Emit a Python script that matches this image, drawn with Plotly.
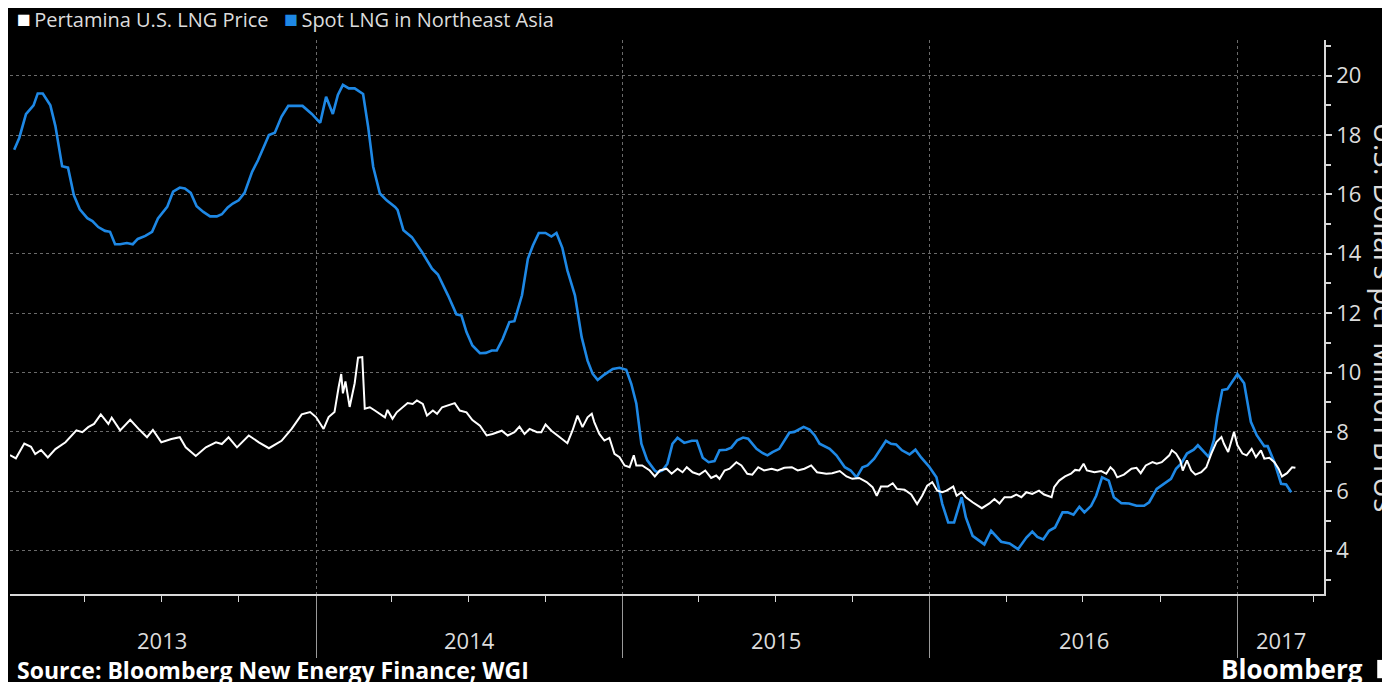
import plotly.graph_objects as go

# Spot LNG in Northeast Asia (weekly assessments), $/MMBtu
spot_dates = [
    "2013-01-07", "2013-01-13", "2013-01-21", "2013-01-30", "2013-02-04", "2013-02-10", "2013-02-19",
    "2013-02-25", "2013-03-05", "2013-03-12", "2013-03-19", "2013-03-26", "2013-04-04", "2013-04-10",
    "2013-04-17", "2013-04-25", "2013-05-01", "2013-05-07", "2013-05-13", "2013-05-21", "2013-05-28",
    "2013-06-03", "2013-06-12", "2013-06-20", "2013-06-27", "2013-07-08", "2013-07-15", "2013-07-23",
    "2013-07-29", "2013-08-05", "2013-08-12", "2013-08-20", "2013-08-28", "2013-09-05", "2013-09-11",
    "2013-09-18", "2013-09-24", "2013-10-01", "2013-10-08", "2013-10-17", "2013-10-24", "2013-10-30",
    "2013-11-06", "2013-11-13", "2013-11-21", "2013-11-29", "2013-12-07", "2013-12-16", "2013-12-27",
    "2014-01-06", "2014-01-13", "2014-01-21", "2014-01-27", "2014-02-02", "2014-02-09", "2014-02-16",
    "2014-02-26", "2014-03-04", "2014-03-10", "2014-03-18", "2014-03-26", "2014-04-05", "2014-04-08",
    "2014-04-15", "2014-04-25", "2014-05-07", "2014-05-19", "2014-05-26", "2014-06-07", "2014-06-17",
    "2014-06-23", "2014-06-29", "2014-07-06", "2014-07-15", "2014-07-22", "2014-07-29", "2014-08-04",
    "2014-08-11", "2014-08-19", "2014-08-25", "2014-09-03", "2014-09-10", "2014-09-16", "2014-09-23",
    "2014-10-01", "2014-10-08", "2014-10-14", "2014-10-21", "2014-10-27", "2014-11-05", "2014-11-13",
    "2014-11-20", "2014-11-26", "2014-12-02", "2014-12-10", "2014-12-20", "2014-12-28", "2015-01-05",
    "2015-01-11", "2015-01-17", "2015-01-23", "2015-01-30", "2015-02-08", "2015-02-11", "2015-02-17",
    "2015-02-23", "2015-03-01", "2015-03-07", "2015-03-15", "2015-03-24", "2015-03-30", "2015-04-06",
    "2015-04-13", "2015-04-20", "2015-04-26", "2015-05-04", "2015-05-10", "2015-05-17", "2015-05-24",
    "2015-05-30", "2015-06-09", "2015-06-16", "2015-06-22", "2015-06-28", "2015-07-06", "2015-07-12",
    "2015-07-18", "2015-07-24", "2015-07-30", "2015-08-04", "2015-08-11", "2015-08-17", "2015-08-23",
    "2015-09-04", "2015-09-12", "2015-09-22", "2015-09-29", "2015-10-06", "2015-10-13", "2015-10-19",
    "2015-10-27", "2015-11-04", "2015-11-10", "2015-11-16", "2015-11-22", "2015-11-29", "2015-12-08",
    "2015-12-15", "2015-12-22", "2015-12-31", "2016-01-09", "2016-01-16", "2016-01-23", "2016-01-30",
    "2016-02-08", "2016-02-13", "2016-02-21", "2016-03-06", "2016-03-14", "2016-03-26", "2016-04-05",
    "2016-04-15", "2016-04-25", "2016-05-02", "2016-05-08", "2016-05-15", "2016-05-22", "2016-05-29",
    "2016-06-07", "2016-06-13", "2016-06-20", "2016-06-27", "2016-07-03", "2016-07-11", "2016-07-17",
    "2016-07-24", "2016-08-01", "2016-08-07", "2016-08-16", "2016-08-25", "2016-09-03", "2016-09-12",
    "2016-09-18", "2016-09-27", "2016-10-06", "2016-10-14", "2016-10-20", "2016-10-26", "2016-11-02",
    "2016-11-10", "2016-11-15", "2016-11-22", "2016-11-28", "2016-12-04", "2016-12-08", "2016-12-14",
    "2016-12-20", "2017-01-01", "2017-01-09", "2017-01-17", "2017-01-24", "2017-02-02", "2017-02-06",
    "2017-02-14", "2017-02-22", "2017-02-28", "2017-03-06",
]
spot_values = [
    17.5, 17.9, 18.7, 19.0, 19.4, 19.4, 19.0,
    18.3, 16.95, 16.9, 15.97, 15.5, 15.2, 15.1,
    14.9, 14.77, 14.74, 14.32, 14.32, 14.36, 14.32,
    14.5, 14.6, 14.74, 15.19, 15.58, 16.09, 16.23,
    16.2, 16.05, 15.6, 15.41, 15.26, 15.26, 15.33,
    15.56, 15.69, 15.8, 16.05, 16.76, 17.15, 17.55,
    18.0, 18.08, 18.62, 18.98, 18.98, 18.98, 18.71,
    18.41, 19.29, 18.71, 19.35, 19.69, 19.57, 19.57,
    19.38, 18.28, 16.93, 16.03, 15.8, 15.58, 15.48,
    14.79, 14.56, 14.06, 13.5, 13.3, 12.6, 11.96,
    11.92, 11.36, 10.91, 10.65, 10.66, 10.74, 10.74,
    11.13, 11.7, 11.73, 12.6, 13.83, 14.28, 14.7,
    14.7, 14.58, 14.7, 14.2, 13.44, 12.6, 11.19,
    10.4, 9.96, 9.75, 9.93, 10.12, 10.16, 10.09,
    9.62, 8.96, 7.6, 7.04, 6.7, 6.64, 6.7,
    6.93, 7.6, 7.8, 7.63, 7.7, 7.7, 7.13,
    6.98, 7.02, 7.38, 7.4, 7.47, 7.72, 7.81,
    7.77, 7.43, 7.29, 7.21, 7.32, 7.43, 7.72,
    7.97, 8.0, 8.08, 8.17, 8.08, 7.89, 7.6,
    7.43, 7.21, 6.81, 6.7, 6.47, 6.81, 6.87,
    7.1, 7.47, 7.7, 7.6, 7.58, 7.38, 7.24,
    7.4, 7.13, 6.84, 6.47, 5.57, 4.95, 4.95,
    5.8, 5.12, 4.5, 4.21, 4.67, 4.3, 4.24,
    4.05, 4.44, 4.64, 4.46, 4.38, 4.67, 4.78,
    5.29, 5.29, 5.21, 5.48, 5.29, 5.51, 5.85,
    6.47, 6.36, 5.8, 5.6, 5.59, 5.51, 5.51,
    5.63, 6.08, 6.25, 6.42, 6.76, 6.93, 7.27,
    7.4, 7.55, 7.32, 7.15, 7.72, 8.51, 9.41,
    9.44, 9.95, 9.64, 8.34, 7.89, 7.52, 7.52,
    6.98, 6.25, 6.23, 5.97,
]

# Pertamina U.S. LNG price, $/MMBtu
pertamina_dates = [
    "2013-01-02", "2013-01-09", "2013-01-19", "2013-01-27", "2013-02-01", "2013-02-08", "2013-02-16",
    "2013-02-25", "2013-03-09", "2013-03-22", "2013-03-29", "2013-04-05", "2013-04-12", "2013-04-20",
    "2013-04-29", "2013-05-03", "2013-05-13", "2013-05-25", "2013-06-05", "2013-06-14", "2013-06-21",
    "2013-07-01", "2013-07-13", "2013-07-23", "2013-07-30", "2013-08-11", "2013-08-23", "2013-09-04",
    "2013-09-11", "2013-09-19", "2013-09-29", "2013-10-13", "2013-10-25", "2013-11-06", "2013-11-21",
    "2013-12-03", "2013-12-15", "2013-12-25", "2014-01-01", "2014-01-10", "2014-01-16", "2014-01-23",
    "2014-01-28", "2014-01-31", "2014-02-02", "2014-02-05", "2014-02-10", "2014-02-16", "2014-02-20",
    "2014-02-25", "2014-02-28", "2014-03-06", "2014-03-12", "2014-03-18", "2014-03-24", "2014-03-27",
    "2014-04-02", "2014-04-07", "2014-04-14", "2014-04-20", "2014-04-26", "2014-05-01", "2014-05-08",
    "2014-05-13", "2014-05-20", "2014-05-25", "2014-05-31", "2014-06-07", "2014-06-15", "2014-06-21",
    "2014-06-29", "2014-07-06", "2014-07-15", "2014-07-23", "2014-07-30", "2014-08-10", "2014-08-17",
    "2014-08-25", "2014-08-31", "2014-09-06", "2014-09-12", "2014-09-21", "2014-09-26", "2014-10-01",
    "2014-10-08", "2014-10-18", "2014-10-27", "2014-11-02", "2014-11-08", "2014-11-14", "2014-11-20",
    "2014-11-25", "2014-11-28", "2014-12-04", "2014-12-10", "2014-12-16", "2014-12-22", "2014-12-28",
    "2015-01-03", "2015-01-09", "2015-01-14", "2015-01-17", "2015-01-24", "2015-02-02", "2015-02-08",
    "2015-02-14", "2015-02-22", "2015-02-28", "2015-03-07", "2015-03-13", "2015-03-18", "2015-03-25",
    "2015-04-02", "2015-04-09", "2015-04-16", "2015-04-22", "2015-04-26", "2015-05-02", "2015-05-08",
    "2015-05-16", "2015-05-22", "2015-05-29", "2015-06-04", "2015-06-11", "2015-06-18", "2015-06-27",
    "2015-07-04", "2015-07-12", "2015-07-21", "2015-07-28", "2015-08-05", "2015-08-13", "2015-08-20",
    "2015-08-31", "2015-09-07", "2015-09-16", "2015-09-24", "2015-10-01", "2015-10-09", "2015-10-18",
    "2015-10-25", "2015-10-30", "2015-11-04", "2015-11-12", "2015-11-18", "2015-11-23", "2015-12-02",
    "2015-12-10", "2015-12-17", "2015-12-23", "2015-12-29", "2016-01-04", "2016-01-10", "2016-01-16",
    "2016-01-21", "2016-01-29", "2016-02-02", "2016-02-08", "2016-02-13", "2016-02-21", "2016-02-29",
    "2016-03-03", "2016-03-12", "2016-03-18", "2016-03-24", "2016-03-30", "2016-04-07", "2016-04-13",
    "2016-04-19", "2016-04-25", "2016-05-02", "2016-05-10", "2016-05-16", "2016-05-25", "2016-05-28",
    "2016-06-03", "2016-06-10", "2016-06-17", "2016-06-22", "2016-06-27", "2016-07-02", "2016-07-06",
    "2016-07-15", "2016-07-23", "2016-07-29", "2016-08-03", "2016-08-07", "2016-08-11", "2016-08-19",
    "2016-08-28", "2016-09-03", "2016-09-08", "2016-09-14", "2016-09-22", "2016-09-27", "2016-10-03",
    "2016-10-12", "2016-10-15", "2016-10-20", "2016-10-25", "2016-10-28", "2016-11-02", "2016-11-07",
    "2016-11-12", "2016-11-19", "2016-11-25", "2016-12-01", "2016-12-07", "2016-12-13", "2016-12-16",
    "2016-12-21", "2016-12-28", "2017-01-01", "2017-01-07", "2017-01-12", "2017-01-18", "2017-01-23",
    "2017-01-29", "2017-02-02", "2017-02-08", "2017-02-14", "2017-02-19", "2017-02-23", "2017-03-01",
    "2017-03-07", "2017-03-11",
]
pertamina_values = [
    7.22, 7.11, 7.61, 7.5, 7.25, 7.39, 7.14,
    7.42, 7.65, 8.05, 7.99, 8.16, 8.27, 8.59,
    8.27, 8.48, 8.05, 8.41, 8.07, 7.82, 8.07,
    7.65, 7.76, 7.82, 7.48, 7.19, 7.48, 7.65,
    7.59, 7.82, 7.48, 7.88, 7.65, 7.45, 7.7,
    8.1, 8.59, 8.67, 8.5, 8.1, 8.5, 8.67,
    9.52, 9.95, 9.3, 9.7, 8.84, 9.64, 10.5,
    10.52, 8.78, 8.83, 8.72, 8.61, 8.49, 8.74,
    8.44, 8.66, 8.83, 8.97, 8.94, 9.06, 8.94,
    8.55, 8.72, 8.61, 8.83, 8.89, 8.97, 8.72,
    8.66, 8.4, 8.21, 7.88, 7.93, 8.04, 7.88,
    7.99, 8.18, 7.93, 8.1, 7.99, 7.99, 8.25,
    8.04, 7.82, 7.62, 8.04, 8.55, 8.16, 8.49,
    8.61, 8.33, 7.93, 7.71, 7.8, 7.26, 7.15,
    6.87, 6.81, 7.21, 6.87, 6.87, 6.7, 6.5,
    6.7, 6.76, 6.59, 6.76, 6.64, 6.81, 6.64,
    6.56, 6.7, 6.45, 6.53, 6.42, 6.7, 6.76,
    6.98, 6.87, 6.59, 6.56, 6.81, 6.7, 6.76,
    6.7, 6.79, 6.81, 6.7, 6.76, 6.87, 6.64,
    6.59, 6.61, 6.68, 6.5, 6.42, 6.45, 6.31,
    6.14, 5.85, 6.16, 6.16, 6.27, 6.08, 6.05,
    5.89, 5.57, 5.85, 6.19, 6.31, 6.02, 5.97,
    6.02, 6.16, 5.85, 5.97, 5.8, 5.63, 5.48,
    5.43, 5.59, 5.74, 5.59, 5.8, 5.8, 5.89,
    5.8, 5.97, 5.91, 6.02, 5.89, 5.8, 6.14,
    6.36, 6.5, 6.59, 6.72, 6.7, 6.93, 6.7,
    6.64, 6.68, 6.59, 6.81, 6.7, 6.47, 6.56,
    6.76, 6.79, 6.61, 6.87, 6.98, 6.93, 6.98,
    7.21, 7.38, 7.27, 7.04, 6.7, 7.04, 6.7,
    6.56, 6.64, 6.81, 7.27, 7.66, 7.83, 7.6,
    7.32, 8.0, 7.55, 7.27, 7.21, 7.43, 7.15,
    7.38, 7.1, 7.13, 6.98, 6.76, 6.5, 6.61,
    6.81, 6.79,
]

year_starts = ["2014-01-01", "2015-01-01", "2016-01-01", "2017-01-01"]
year_labels = ["2013", "2014", "2015", "2016", "2017"]
year_label_dates = ["2013-07-02", "2014-07-02", "2015-07-02", "2016-07-02", "2017-02-22"]
y_ticks = [4, 6, 8, 10, 12, 14, 16, 18, 20]
series_names = ["Pertamina U.S. LNG Price", "Spot LNG in Northeast Asia"]

BLUE = "#1e88e5"
TXT = "#dcdcdc"
FONT = "Open Sans, Noto Sans, sans-serif"

fig = go.Figure()

fig.add_trace(go.Scatter(x=spot_dates, y=spot_values, mode="lines", name=series_names[1],
                         showlegend=False, line=dict(color=BLUE, width=2.6)))
fig.add_trace(go.Scatter(x=pertamina_dates, y=pertamina_values, mode="lines", name=series_names[0],
                         showlegend=False, line=dict(color="white", width=2)))

fig.update_xaxes(
    type="date",
    range=["2013-01-02", "2017-04-14"],
    tickmode="array",
    tickvals=year_starts,
    showticklabels=False,
    ticks="outside", ticklen=62, tickwidth=1, tickcolor="#9a9a9a",
    showgrid=True, gridcolor="#6a6a6a", griddash="dot", gridwidth=1,
    showline=True, linecolor="#d8d8d8", linewidth=1.5,
    minor=dict(tickmode="linear", tick0="2013-01-01", dtick="M3", ticks="outside",
               ticklen=6, tickcolor="#d8d8d8", showgrid=False),
    zeroline=False, automargin=False,
)
fig.update_yaxes(
    side="right",
    range=[2.54, 21.2],
    tickmode="array",
    tickvals=y_ticks,
    ticks="outside", ticklen=6, tickwidth=2, tickcolor="#d8d8d8",
    tickfont=dict(size=22, color=TXT, family=FONT),
    showgrid=True, gridcolor="#6a6a6a", griddash="dot", gridwidth=1,
    showline=True, linecolor="#d8d8d8", linewidth=1.5,
    minor=dict(tickmode="linear", tick0=3, dtick=2, ticks="outside", ticklen=5,
               tickcolor="#d8d8d8", showgrid=False),
    zeroline=False, automargin=False,
)

for lab, d in zip(year_labels, year_label_dates):
    fig.add_annotation(x=d, y=-0.083, xref="x", yref="paper", text=lab, showarrow=False,
                       font=dict(size=22, color=TXT, family=FONT), xanchor="center", yanchor="middle")

# legend row drawn as text with coloured square swatches
legend_text = (
    f"<span style='color:white;font-size:23px'>■</span>\u2009{series_names[0]}"
    f"   <span style='color:{BLUE};font-size:23px'>■</span>\u2009{series_names[1]}"
)
fig.add_annotation(x=0.004, y=1.04, xref="paper", yref="paper", text=legend_text,
                   showarrow=False, xanchor="left", yanchor="middle",
                   font=dict(size=20, color=TXT, family=FONT))

fig.add_annotation(x=1.047, y=0.5, xref="paper", yref="paper", text="U.S. Dollars per Million BTUs",
                   textangle=90, showarrow=False, xanchor="center", yanchor="middle",
                   font=dict(size=29.5, color=TXT, family=FONT))
fig.add_annotation(x=0.004, y=-0.137, xref="paper", yref="paper",
                   text="<b>Source: Bloomberg New Energy Finance; WGI</b>", showarrow=False,
                   xanchor="left", yanchor="middle", font=dict(size=23, color="white", family=FONT))
fig.add_annotation(x=1.031, y=-0.135, xref="paper", yref="paper", text="<b>Bloomberg</b>",
                   showarrow=False, xanchor="right", yanchor="middle",
                   font=dict(size=26, color="white", family=FONT))
# small logo tile beside the wordmark
fig.add_shape(type="rect", xref="paper", yref="paper", x0=1.0405, x1=1.056, y0=-0.152, y1=-0.119,
              line=dict(width=0), fillcolor="white")

# page body keeps an 8px margin, so the figure is 8px smaller each way
fig.update_layout(
    width=1382, height=674,
    paper_bgcolor="black", plot_bgcolor="black",
    margin=dict(l=2, r=66, t=32, b=88, autoexpand=False),
    font=dict(family=FONT, color=TXT),
    showlegend=False,
)

fig.write_html("out.html")
